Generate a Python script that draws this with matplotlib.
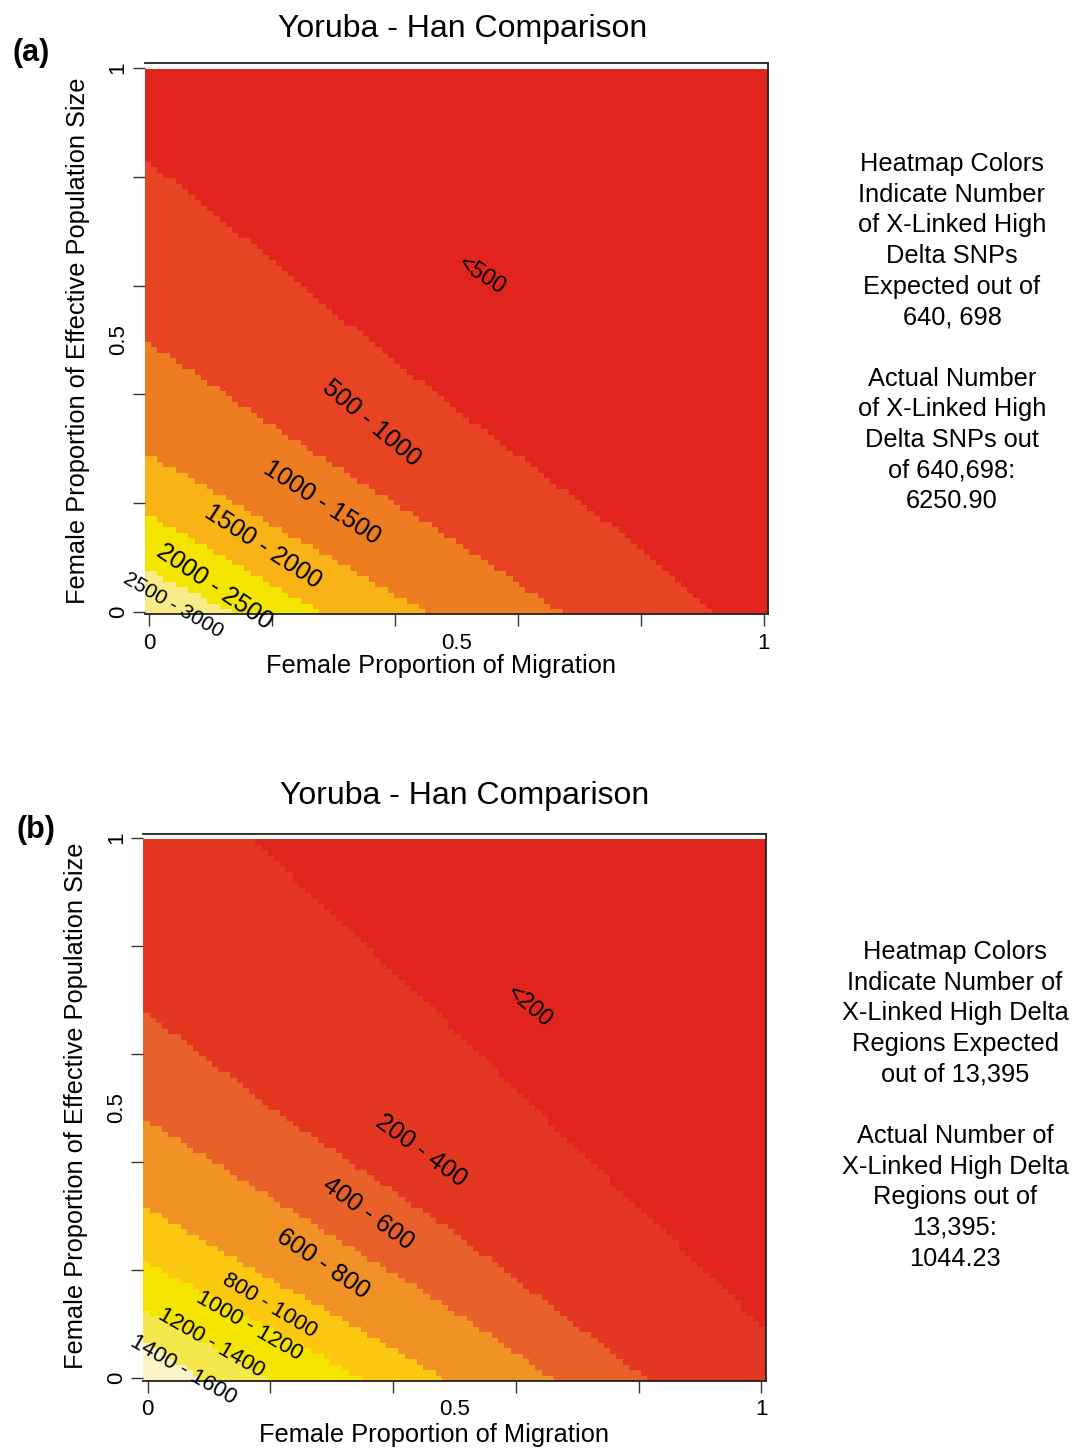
import numpy as np
import matplotlib
matplotlib.use("Agg")
import matplotlib.pyplot as plt
from matplotlib.colors import ListedColormap

plt.rcParams['font.family'] = ['Liberation Sans', 'DejaVu Sans']

W, H = 1073, 1450

# ---- data ----
# band boundaries, given as (x, y) points along each edge between two colour bands
bounds_a = [
    [(0.0, 0.835), (0.179, 0.6715), (0.36, 0.5), (0.504, 0.371), (0.753, 0.157), (0.913, 0.0)],  # 500
    [(0.0, 0.50), (0.24, 0.316), (0.504, 0.127), (0.667, 0.0)],   # 1000
    [(0.0, 0.292), (0.450, 0.0)],   # 1500
    [(0.0, 0.181), (0.279, 0.0)],   # 2000
    [(0.0, 0.078), (0.135, 0.0)],   # 2500
]
bands_a = ['<500', '500 - 1000', '1000 - 1500', '1500 - 2000', '2000 - 2500', '2500 - 3000']
colors_a = ['#E2241F', '#E64422', '#EE7D21', '#F9B317', '#F3E500', '#F7EC88']

bounds_b = [
    [(0.177, 1.0), (0.5, 0.6506), (0.6366, 0.4963), (1.007, 0.09)],  # 200
    [(0.0, 0.681), (0.212, 0.496), (0.5003, 0.271), (0.81, 0.0)],   # 400
    [(0.0, 0.481), (0.5, 0.125), (0.658, 0.0)],   # 600
    [(0.0, 0.317), (0.484, 0.0)],   # 800
    [(0.0, 0.217), (0.348, 0.0)],   # 1000
    [(0.0, 0.126), (0.20, 0.0)],    # 1200
    [(0.0, 0.067), (0.09, 0.0)],    # 1400
]
bands_b = ['<200', '200 - 400', '400 - 600', '600 - 800', '800 - 1000',
           '1000 - 1200', '1200 - 1400', '1400 - 1600']
colors_b = ['#E2241F', '#E43722', '#E9612A', '#F09226', '#FCC710', '#F3E500', '#F5E84C', '#FAF4C8']

# label placement (x, y, angle, size) for each band
labels_a = [(0.541, 0.619, -33, 16.5), (0.361, 0.347, -40, 18), (0.282, 0.201, -33, 18),
            (0.186, 0.119, -33, 18), (0.107, 0.046, -34, 18), (0.040, 0.013, -30, 15)]
labels_b = [(0.623, 0.687, -40, 16.5), (0.445, 0.422, -36, 18), (0.359, 0.305, -36, 18),
            (0.286, 0.212, -34, 18), (0.198, 0.134, -31, 16), (0.165, 0.097, -30, 16),
            (0.104, 0.064, -30, 16), (0.058, 0.015, -30, 16)]

side_a = ("Heatmap Colors\nIndicate Number\nof X-Linked High\nDelta SNPs\nExpected out of\n640, 698\n\n"
          "Actual Number\nof X-Linked High\nDelta SNPs out\nof 640,698:\n6250.90")
side_b = ("Heatmap Colors\nIndicate Number of\nX-Linked High Delta\nRegions Expected\nout of 13,395\n\n"
          "Actual Number of\nX-Linked High Delta\nRegions out of\n13,395:\n1044.23")

title = "Yoruba - Han Comparison"
xlab = "Female Proportion of Migration"
ylab = "Female Proportion of Effective Population Size"


def band_grid(xc, yc, bounds):
    idx = np.zeros((len(yc), len(xc)), dtype=int)
    for pts in bounds:
        bx = np.array([p[0] for p in pts])
        by = np.array([p[1] for p in pts])
        o = np.argsort(by)
        xb = np.interp(yc, by[o], bx[o])
        idx += (xc[None, :] < xb[:, None])
    return idx


def px(x, y):
    return x / W, 1 - y / H


def draw_panel(rect, ylim, yedge_top, bounds, colors, bands, labels, side, side_xy,
               tag, tag_xy, title_xy, xlab_xy, ylab_xy):
    ax = fig.add_axes(rect)
    xe = np.linspace(-0.007, 1.007, 101)
    ye = np.linspace(ylim[0], yedge_top, 101)
    # grid points the model was evaluated on
    xc = np.linspace(0, 1, 100)
    yc = np.linspace(0, 1, 100)
    grid = band_grid(xc, yc, bounds)
    ax.pcolormesh(xe, ye, grid, cmap=ListedColormap(colors),
                  vmin=-0.5, vmax=len(colors) - 0.5, shading='flat')
    ax.set_xlim(-0.007, 1.007)
    ax.set_ylim(*ylim)

    for (lx, ly, rot, sz), txt in zip(labels, bands):
        ax.text(lx, ly, txt, rotation=rot, fontsize=sz, ha='center', va='center',
                rotation_mode='anchor', clip_on=False)

    ticks = np.linspace(0, 1, 6)
    lab = ['0', '', '', '', '', '1']
    ax.set_xticks(ticks, labels=lab, fontsize=16)
    ax.set_yticks(ticks, labels=lab, fontsize=16)
    ax.set_xticks([0.5], labels=['0.5'], minor=True, fontsize=16)
    ax.set_yticks([0.5], labels=['0.5'], minor=True, fontsize=16)
    ax.tick_params(which='major', direction='out', length=8.5, width=1.0, color='#333333')
    ax.tick_params(which='minor', length=0)
    ax.tick_params(axis='x', which='major', pad=4.5)
    ax.tick_params(axis='x', which='minor', pad=13)
    ax.tick_params(axis='y', which='major', pad=3)
    ax.tick_params(axis='y', which='minor', pad=11.5)
    ax.tick_params(axis='y', which='both', labelrotation=90)
    for t in ax.get_yticklabels(which='both'):
        t.set_va('center')
    for s in ['top', 'right', 'bottom']:
        ax.spines[s].set_linewidth(1.3)
        ax.spines[s].set_color('#222222')
    ax.spines['left'].set_visible(False)

    fig.text(*px(*title_xy), title, fontsize=23, ha='center', va='baseline')
    fig.text(*px(*xlab_xy), xlab, fontsize=18.3, ha='center', va='center')
    fig.text(*px(*ylab_xy), ylab, fontsize=18.3, ha='center', va='center', rotation=90)
    fig.text(*px(*tag_xy), tag, fontsize=22, fontweight='bold', ha='center', va='center')

    sx, sy = side_xy
    for i, line in enumerate(side.split('\n')):
        fig.text(*px(sx, sy + i * 30.65), line, fontsize=18.3, ha='center', va='center')
    return ax


fig = plt.figure(figsize=(W / 100, H / 100), dpi=100)

draw_panel([144.7 / W, (H - 614.5) / H, 623.6 / W, 551.2 / H], (-0.005, 1.009), 0.998,
           bounds_a, colors_a, bands_a, labels_a, side_a, (952, 164),
           '(a)', (31, 53), (463, 37), (441, 666), (78, 341))
draw_panel([143.3 / W, (H - 1381) / H, 622.4 / W, 547 / H], (-0.0056, 1.0074), 0.9976,
           bounds_b, colors_b, bands_b, labels_b, side_b, (955, 952),
           '(b)', (36, 830), (465, 804), (434, 1435), (76, 1106))

fig.savefig('out.png', dpi=100)
